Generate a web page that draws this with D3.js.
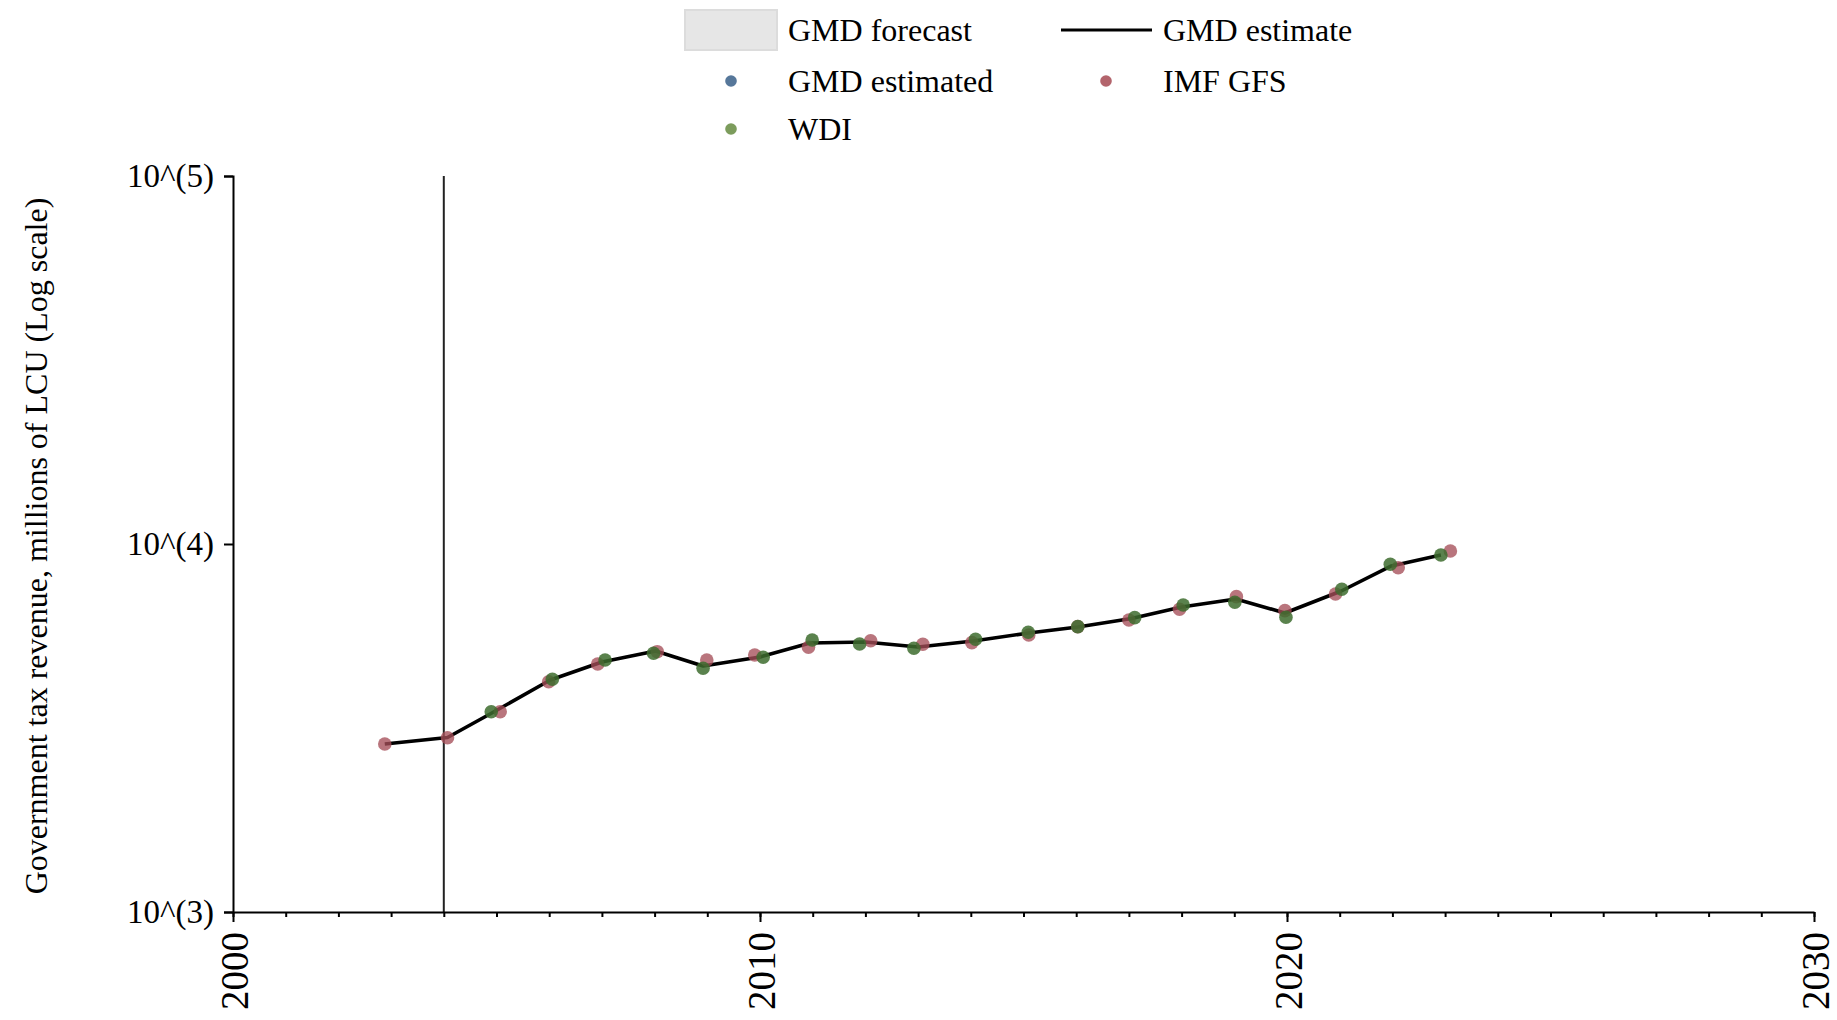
<!DOCTYPE html>
<html>
<head>
<meta charset="utf-8">
<script src="https://cdn.jsdelivr.net/npm/d3@7/dist/d3.min.js"></script>
<style>
  html, body { margin: 0; padding: 0; background: #fff; }
  svg { display: block; }
  text { font-family: "Liberation Serif", "Times New Roman", serif; fill: #000; }
</style>
</head>
<body>
<svg id="chart" width="1837" height="1020"></svg>
<script>
// ---- Data ----
const lineYears = [2002.88, 2004.07, 2004.98, 2006.02, 2007.0, 2008.02, 2008.92, 2010.0, 2010.95, 2012.0, 2013.0, 2014.05, 2015.1, 2016.03, 2017.05, 2018.0, 2019.03, 2019.96, 2021.03, 2021.98, 2022.92];
const lineValues = [2861, 2980, 3517, 4270, 4779, 5120, 4661, 4932, 5383, 5416, 5249, 5450, 5731, 5950, 6276, 6744, 7089, 6495, 7452, 8715, 9336];

const imfYears = [2002.88, 2004.07, 2005.07, 2005.99, 2006.92, 2008.05, 2008.99, 2009.9, 2010.92, 2012.1, 2013.09, 2014.02, 2015.1, 2016.03, 2017.0, 2017.96, 2019.04, 2019.96, 2020.92, 2022.11, 2023.1];
const imfValues = [2861, 2976, 3502, 4225, 4720, 5098, 4839, 4994, 5240, 5461, 5340, 5394, 5658, 5962, 6217, 6647, 7193, 6589, 7315, 8623, 9572];

const wdiYears = [2004.9, 2006.06, 2007.06, 2007.98, 2008.92, 2010.06, 2010.99, 2011.89, 2012.92, 2014.09, 2015.09, 2016.03, 2017.11, 2018.03, 2019.01, 2019.98, 2021.04, 2021.96, 2022.92];
const wdiValues = [3502, 4290, 4839, 5047, 4595, 4922, 5485, 5350, 5207, 5508, 5756, 5962, 6307, 6829, 6945, 6323, 7532, 8807, 9336];

const gmdEstimatedYears = [];
const gmdEstimatedValues = [];

const forecastStartYear = 2004;   // vertical marker line
const xMajorTicks = [2000, 2010, 2020, 2030];
const yTicks = [1000, 10000, 100000];
const yTitle = "Government tax revenue, millions of LCU (Log scale)";

const legendItems = [
  { label: "GMD forecast", kind: "rect", color: "#e6e6e6" },
  { label: "GMD estimate", kind: "line", color: "#000" },
  { label: "GMD estimated", kind: "dot", color: "#56779a" },
  { label: "IMF GFS", kind: "dot", color: "#b3646c" },
  { label: "WDI", kind: "dot", color: "#7c9c5c" }
];

(function () {
// ---- Layout ----
const svg = d3.select("#chart");
const pL = 233, pR = 1814, pT = 176, pB = 912;

const x = d3.scaleLinear().domain([2000, 2030]).range([pL, pR]);
const y = d3.scaleLog().domain([1000, 100000]).range([pB, pT]);

// vertical marker line
svg.append("line")
  .attr("x1", x(forecastStartYear)).attr("x2", x(forecastStartYear))
  .attr("y1", y(100000)).attr("y2", y(1000))
  .attr("stroke", "#222").attr("stroke-width", 2);

// Y axis
const yAxis = svg.append("g").attr("transform", `translate(${pL},0)`)
  .call(d3.axisLeft(y).tickValues(yTicks).tickSize(9).tickPadding(10)
    .tickFormat(d => "10^(" + Math.round(Math.log10(d)) + ")"));
yAxis.select(".domain").attr("stroke", "#000").attr("stroke-width", 2);
yAxis.selectAll(".tick line").attr("stroke", "#000").attr("stroke-width", 2);
yAxis.selectAll(".tick text").style("font-size", "33px").style("font-family", '"Liberation Serif", serif').attr("fill", "#000");

// X axis minor ticks (yearly)
const xMinor = svg.append("g").attr("transform", `translate(0,${pB})`)
  .call(d3.axisBottom(x).tickValues(d3.range(2000, 2031)).tickSize(5).tickFormat(""));
xMinor.select(".domain").remove();
xMinor.selectAll(".tick line").attr("stroke", "#000").attr("stroke-width", 2);

// X axis major
const xAxis = svg.append("g").attr("transform", `translate(0,${pB})`)
  .call(d3.axisBottom(x).tickValues(xMajorTicks).tickSize(10).tickSizeOuter(0).tickFormat(d3.format("d")));
xAxis.select(".domain").attr("stroke", "#000").attr("stroke-width", 2);
xAxis.selectAll(".tick line").attr("stroke", "#000").attr("stroke-width", 2);
xAxis.selectAll(".tick text")
  .attr("transform", "rotate(-90)")
  .attr("x", -20).attr("y", 0).attr("dy", "0.36em")
  .attr("text-anchor", "end")
  .style("font-size", "39px").style("font-family", '"Liberation Serif", serif').attr("fill", "#000");

// Y title
svg.append("text")
  .attr("transform", `translate(36,${(pT + pB) / 2 + 2}) rotate(-90)`)
  .attr("text-anchor", "middle").attr("dy", "0.35em")
  .style("font-size", "32px")
  .text(yTitle);

// GMD estimate line
const lineData = lineYears.map((yr, i) => [yr, lineValues[i]]);
svg.append("path")
  .datum(lineData)
  .attr("fill", "none").attr("stroke", "#000").attr("stroke-width", 3.6)
  .attr("stroke-linejoin", "round")
  .attr("d", d3.line().x(d => x(d[0])).y(d => y(d[1])));

// points
function drawDots(years, values, color, opacity) {
  svg.append("g").selectAll("circle")
    .data(years.map((yr, i) => [yr, values[i]]))
    .join("circle")
    .attr("cx", d => x(d[0])).attr("cy", d => y(d[1]))
    .attr("r", 6.8)
    .attr("fill", color).attr("fill-opacity", opacity);
}
drawDots(gmdEstimatedYears, gmdEstimatedValues, "#4f7199", 0.8);
drawDots(imfYears, imfValues, "#a54e59", 0.78);
drawDots(wdiYears, wdiValues, "#3d6c2e", 0.85);

// Legend
const lg = svg.append("g");
const legendPos = [
  { sx: 731, tx: 788, cy: 30 },
  { sx: 1106, tx: 1163, cy: 30 },
  { sx: 731, tx: 788, cy: 81 },
  { sx: 1106, tx: 1163, cy: 81 },
  { sx: 731, tx: 788, cy: 129 }
];
legendItems.forEach((it, i) => {
  const p = legendPos[i];
  if (it.kind === "rect") {
    lg.append("rect").attr("x", 685).attr("y", 10).attr("width", 92).attr("height", 40)
      .attr("fill", it.color).attr("stroke", "#dcdcdc").attr("stroke-width", 2);
  } else if (it.kind === "line") {
    lg.append("line").attr("x1", 1061).attr("x2", 1152).attr("y1", p.cy).attr("y2", p.cy)
      .attr("stroke", it.color).attr("stroke-width", 3);
  } else {
    lg.append("circle").attr("cx", p.sx).attr("cy", p.cy).attr("r", 5.8).attr("fill", it.color);
  }
  lg.append("text").attr("x", p.tx).attr("y", p.cy).attr("dy", "0.33em")
    .style("font-size", "32px").text(it.label);
});
})();
</script>
</body>
</html>
